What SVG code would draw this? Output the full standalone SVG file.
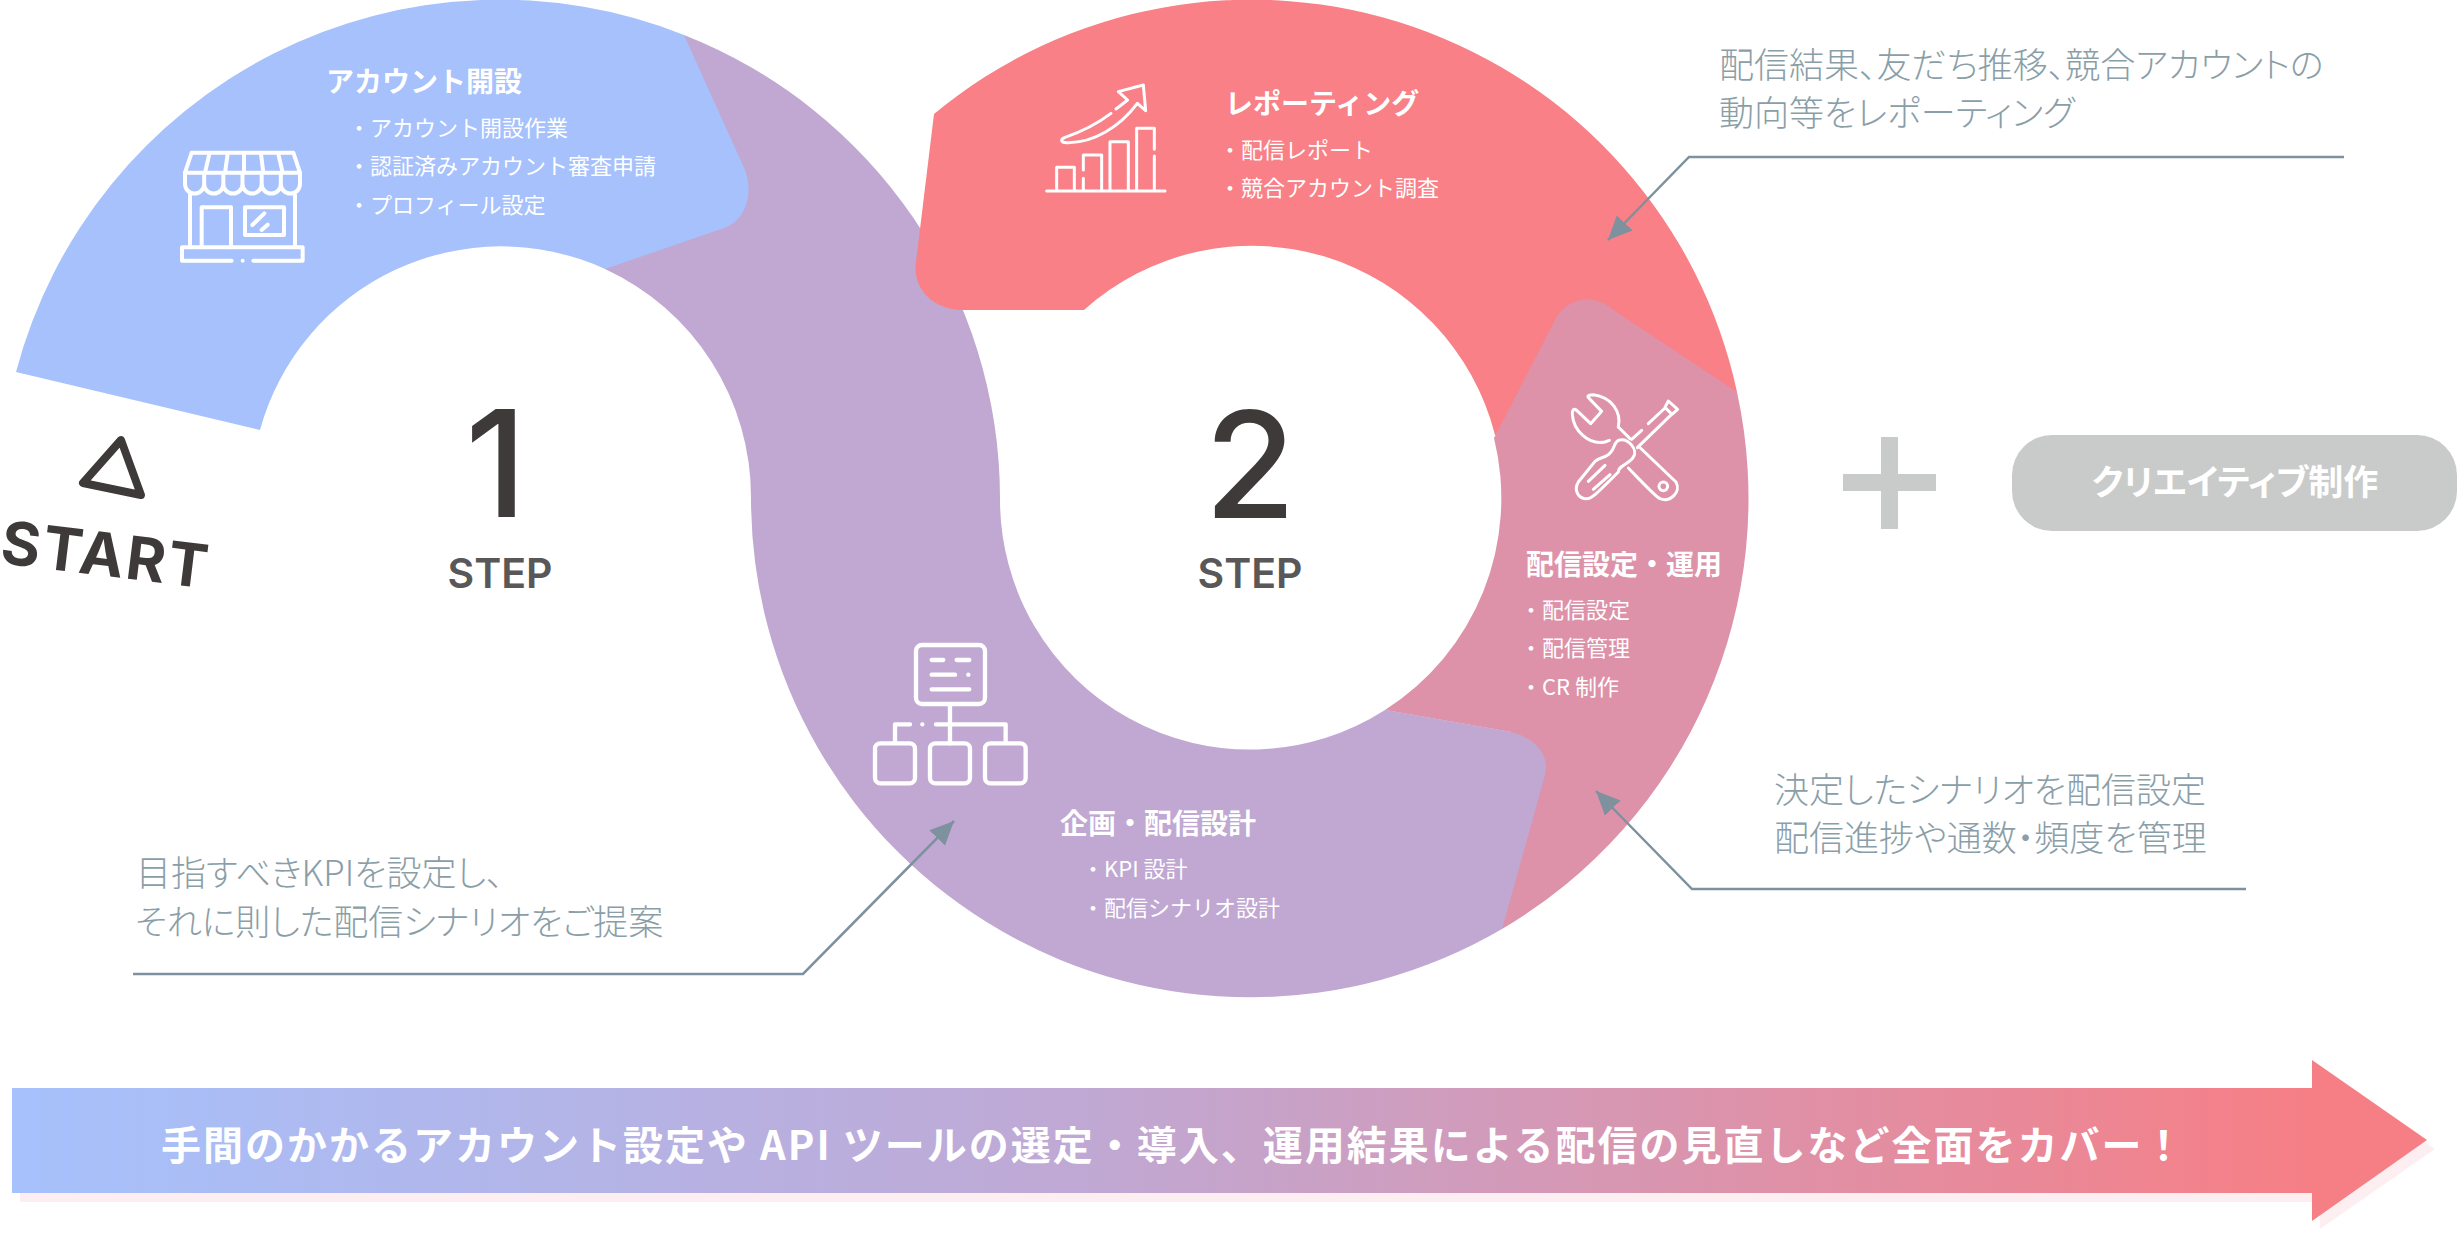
<svg xmlns="http://www.w3.org/2000/svg" width="2457" height="1234" viewBox="0 0 2457 1234">
<style>
text{font-family:"Noto Sans CJK JP","Noto Sans",sans-serif}
.t{font-size:28px;font-weight:700;fill:#fff}
.l{font-size:22px;font-weight:400;fill:#fff}
.c{font-size:35px;font-weight:300;fill:#8a9ea8;font-feature-settings:"palt"}
.n{font-family:Inter,"Liberation Sans",sans-serif;font-size:148px;font-weight:450;fill:#3e3a39;text-anchor:middle}
.s{font-family:Inter,"Liberation Sans",sans-serif;font-size:41px;font-weight:600;fill:#595757;text-anchor:middle}
.i{fill:none;stroke:#fff;stroke-linecap:round;stroke-linejoin:round}
.lk{fill:none;stroke:#7d929e;stroke-width:2.5}
</style>
<defs>
<linearGradient id="g" gradientUnits="userSpaceOnUse" x1="12" y1="0" x2="2427" y2="0">
<stop offset="0" stop-color="#a6c1fc"/><stop offset=".45" stop-color="#c0a8d3"/><stop offset=".95" stop-color="#f67f86"/>
</linearGradient>
<marker id="a" markerUnits="userSpaceOnUse" markerWidth="30" markerHeight="30" refX="24" refY="11" orient="auto"><path d="M0 0L24 11L0 22Z" fill="#7d929e"/></marker>
</defs>
<g id="step3">
<path d="M684 35A498 498 0 0 1 1000 498A250 250 0 0 0 1385 710L1511 732C1535 738 1550 755 1545 775L1502 929A499 499 0 0 1 751 498A251 251 0 0 0 605 269Z" fill="#c0a8d3"/>
</g>
<g id="step4-shape">
<path d="M934 114A497 497 0 0 1 1737 392L1495 435A251 251 0 0 0 1084 310L964 310C930 310 912 285 916 262Z" fill="#f88086"/>
</g>
<g id="step-overlap">
<path d="M1737 392A499 499 0 0 1 1502 929L1511 732L1385 710A251 251 0 0 0 1494 438L1554 322C1566 296 1595 294 1612 309Z" fill="#dd92a9"/>
<path d="M1385 710L1511 732C1535 738 1550 755 1545 775L1502 929L1440 900Z" fill="#c0a8d3"/>
</g>
<g id="step1">
<path d="M16 372A500 500 0 0 1 684 35L745 170C753 190 748 220 724 228L605 269A250 250 0 0 0 260 430Z" fill="#a6c1fc"/>
<text class="t" x="326" y="92">アカウント開設</text>
<text class="l" x="348" y="136">・アカウント開設作業</text>
<text class="l" x="348" y="174">・認証済みアカウント審査申請</text>
<text class="l" x="348" y="213">・プロフィール設定</text>
<g class="i" stroke-width="12" transform="translate(160 130) scale(.3333)">
<path d="M95 68H400L420 128H75Z"/>
<path d="M148 72L135 128M203 72L195 128M252 72V128M303 72L310 128M355 72L368 128"/>
<path d="M75 128V162A28.75 28.75 0 0 0 132.5 162A28.75 28.75 0 0 0 190 162A28.75 28.75 0 0 0 247.5 162A28.75 28.75 0 0 0 305 162A28.75 28.75 0 0 0 362.5 162A28.75 28.75 0 0 0 420 162V128M132.5 128V162M190 128V162M247.5 128V162M305 128V162M362.5 128V162"/>
<path d="M90 195V352M405 195V352M125 352V232H213V352"/>
<rect x="255" y="232" width="117" height="83"/>
<path d="M277 285L313 250M305 300L323 284"/>
<path d="M215 392H66V352H428V392H280M248 392h.1"/>
</g>
</g>
<g id="step2">
<text class="t" x="1060" y="834">企画・配信設計</text>
<text class="l" x="1082" y="877">・KPI 設計</text>
<text class="l" x="1082" y="916">・配信シナリオ設計</text>
<g class="i" stroke-width="13" transform="translate(860 630) scale(.3333)">
<rect x="168" y="45" width="207" height="177" rx="18"/>
<path d="M215 90H250M290 90H328M215 134H285M325 134h.1M215 178H328M270 222V340M437 335V283H228M187 283h.1M150 283H105V335"/>
<rect x="45" y="340" width="120" height="120" rx="16"/>
<rect x="210" y="340" width="120" height="120" rx="16"/>
<rect x="375" y="340" width="122" height="120" rx="16"/>
</g>
</g>
<g id="step4">
<text class="t" x="1225" y="114">レポーティング</text>
<text class="l" x="1219" y="158">・配信レポート</text>
<text class="l" x="1219" y="196">・競合アカウント調査</text>
<g class="i" stroke-width="9" transform="translate(1030 60) scale(.3333)">
<path d="M50 393H405M80 390V322H133V390M160 390V355M160 330V285H215V390M240 390V245H295V390M320 390V205H373V268M373 288V390"/>
<path d="M243 160C190 200 140 220 105 232C90 238 92 248 110 248C190 250 270 200 322 130L347 152L340 75L265 95L293 120L258 147"/>
</g>
</g>
<g id="step5">
<text class="t" x="1526" y="575">配信設定・運用</text>
<text class="l" x="1520" y="618">・配信設定</text>
<text class="l" x="1520" y="656">・配信管理</text>
<text class="l" x="1520" y="695">・CR 制作</text>
<g class="i" stroke-width="9" transform="translate(1550 382) scale(.3333)">
<path d="M205 135C215 90 185 45 130 38C110 38 112 44 118 50L155 88L122 125L80 85C70 78 66 85 67 97C70 145 115 190 165 180L178 175"/>
<path d="M205 135L240 170M268 195L378 300C395 330 360 362 330 350C318 345 300 325 235 258"/>
<circle cx="340" cy="313" r="13"/>
<path d="M355 57L383 82L366 97L345 76ZM345 78L295 125M275 145L245 172M364 98L262 197"/>
<path d="M205 175C190 182 195 205 175 218C160 230 150 225 135 238L85 300C70 325 85 350 110 350C125 350 135 340 205 270C205 250 240 245 250 225C265 205 235 165 205 175Z"/>
<path d="M115 298L165 250M130 322L180 278"/>
</g>
</g>
<g id="center-1"><text class="n" x="496" y="517">1</text><text class="s" x="500" y="588">STEP</text></g>
<g id="center-2"><text class="n" x="1250" y="518">2</text><text class="s" x="1250" y="588">STEP</text></g>
<g id="start">
<path d="M121 440L83 483L141 495Z" fill="none" stroke="#3e3a39" stroke-width="8" stroke-linejoin="round"/>
<text transform="translate(-1 563) rotate(7)" font-size="60" font-weight="700" letter-spacing="2.4" fill="#3e3a39" style="font-family:Inter,'Liberation Sans',sans-serif">START</text>
</g>
<g id="creative">
<path d="M1881 437H1898V474H1936V491H1898V529H1881V491H1843V474H1881Z" fill="#c9cbca"/>
<rect x="2012" y="435" width="445" height="96" rx="40" fill="#c9cbca"/>
<text x="2235" y="495" text-anchor="middle" font-size="35" font-weight="700" fill="#fff" style="font-feature-settings:'palt'">クリエイティブ制作</text>
</g>
<g id="notes">
<text class="c" x="1719" y="78">配信結果、友だち推移、競合アカウントの</text>
<text class="c" x="1719" y="126">動向等をレポーティング</text>
<text class="c" x="1774" y="803">決定したシナリオを配信設定</text>
<text class="c" x="1774" y="851">配信進捗や通数・頻度を管理</text>
<text class="c" x="136" y="886">目指すべきKPIを設定し、</text>
<text class="c" x="135" y="935">それに則した配信シナリオをご提案</text>
</g>
<g id="connectors">
<path class="lk" marker-end="url(#a)" d="M2344 157H1689L1608 240"/>
<path class="lk" marker-end="url(#a)" d="M2246 889H1692L1596 791"/>
<path class="lk" marker-end="url(#a)" d="M133 974H803L954 821"/>
</g>
<g id="banner">
<path d="M20 1101H2320V1069L2435 1149L2320 1229V1202H20Z" fill="#fdeff1"/>
<path d="M12 1088H2312V1060L2427 1140L2312 1221V1193H12Z" fill="url(#g)"/>
<text x="161" y="1160" font-size="40" font-weight="700" letter-spacing="2" fill="#fff">手間のかかるアカウント設定や API ツールの選定・導入、運用結果による配信の見直しなど全面をカバー！</text>
</g>
</svg>
